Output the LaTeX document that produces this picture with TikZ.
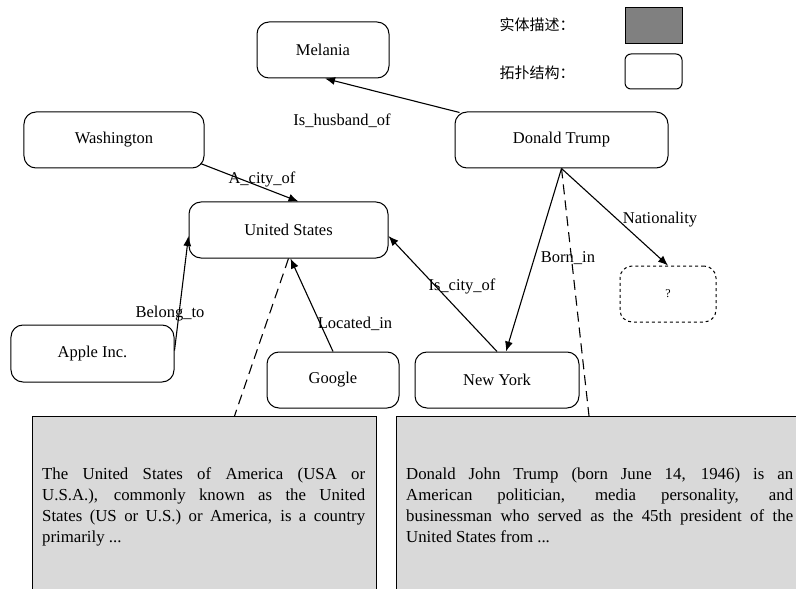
\documentclass[tikz,border=0pt]{standalone}
\usepackage{fontspec}
\setmainfont{Liberation Serif}
\newfontfamily\cjkfont{Noto Sans CJK SC}
\usetikzlibrary{arrows.meta}
\definecolor{descgray}{RGB}{217,217,217}
\definecolor{legendgray}{RGB}{128,128,128}
\begin{document}
\begin{tikzpicture}[x=1bp,y=-1bp,
  ent/.style={draw, rounded corners=12bp, line width=1bp, minimum height=56bp, inner sep=0pt, font=\fontsize{16.5bp}{20bp}\selectfont},
  rel/.style={font=\fontsize{16.5bp}{20bp}\selectfont, inner sep=1bp},
  link/.style={line width=1.1bp, -{Latex[length=10bp,width=8bp]}},
  descline/.style={line width=1.1bp, dash pattern=on 10bp off 6bp},
  desc/.style={draw, line width=1bp, fill=descgray, inner sep=0pt},
  desctext/.style={anchor=north west, inner sep=0pt, align=justify, font=\fontsize{16.8bp}{21bp}\selectfont},
  legtext/.style={font=\cjkfont\fontsize{15bp}{18bp}\selectfont},
]
\useasboundingbox (0,0) rectangle (796,589);

% description boxes
\begin{scope}
\clip (0,0) rectangle (796,589);
\node[desc, anchor=north west, minimum width=344bp, minimum height=200bp] (ltxt) at (32,416) {};
\node[desc, anchor=north west, minimum width=420bp, minimum height=200bp] (rtxt) at (396,416) {};
\end{scope}
\node[desctext, text width=323bp] (ltext) at (42,467.5) {\noindent The United States of America (USA or\linebreak U.S.A.), commonly known as the United\linebreak States (US or U.S.) or America, is a country\linebreak primarily ...};
\node[desctext, text width=387bp] (rtext) at (406,467.5) {\noindent Donald John Trump (born June 14, 1946) is an\linebreak American politician, media personality, and\linebreak businessman who served as the 45th president of the\linebreak United States from ...};

% entities
\node[ent, minimum width=132bp] (mel) at (323,50) {Melania};
\node[ent, minimum width=180bp] (wash) at (114,140) {Washington};
\node[ent, minimum width=213bp] (dt) at (561.5,140) {Donald Trump};
\node[ent, minimum width=199bp] (us) at (288.5,230) {United States};
\node[ent, minimum width=163bp, minimum height=57bp] (apple) at (92.5,353.5) {Apple Inc.};
\node[ent, minimum width=132bp] (google) at (333,380) {Google};
\node[ent, minimum width=164bp] (ny) at (497,380) {New York};
\node[ent, dashed, minimum width=96bp, font=\fontsize{12bp}{14bp}\selectfont] (q) at (668,294) {?};

% legend
\node[legtext] (l1) at (537,25) {实体描述：};
\node[draw, line width=1bp, fill=legendgray, minimum width=57bp, minimum height=36bp, inner sep=0pt] (lg1) at (653.5,26) {};
\node[legtext] (l2) at (537,73) {拓扑结构：};
\node[draw, line width=1bp, rounded corners=6bp, minimum width=57bp, minimum height=35bp, inner sep=0pt] (lg2) at (653.5,71.5) {};

% relations
\draw[link] ([xshift=5bp,yshift=-1bp]dt.north west) -- ([xshift=2bp]mel.south);
\draw[link] ([xshift=-4bp,yshift=5bp]wash.south east) -- ([xshift=10bp]us.north);
\draw[link] ([yshift=3bp]apple.east) -- ([yshift=-6bp]us.west);
\draw[link] (google.north) -- ([xshift=2bp]us.south);
\draw[link] (ny.north) -- ([yshift=-6bp]us.east);
\draw[link] (dt.south) -- ([xshift=9bp]ny.north);
\draw[link] (dt.south) -- (q.north);

% description links
\draw[descline] (us.south) -- ([xshift=30bp]ltxt.north);
\draw[descline] (dt.south) -- ([xshift=193bp]rtxt.north west);

% labels
\node[rel] (lhus) at (342,121) {Is\_husband\_of};
\node[rel] (lcity) at (262,179) {A\_city\_of};
\node[rel] (lbel) at (170,314) {Belong\_to};
\node[rel] (lloc) at (355,324) {Located\_in};
\node[rel] (liscity) at (462,286) {Is\_city\_of};
\node[rel] (lborn) at (568,258) {Born\_in};
\node[rel] (lnat) at (660,220) {Nationality};
\end{tikzpicture}
\end{document}
